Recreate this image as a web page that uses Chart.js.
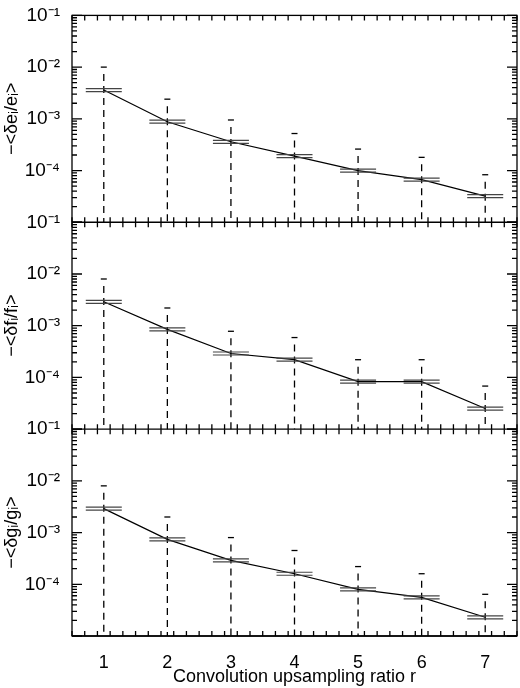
<!DOCTYPE html>
<html>
<head>
<meta charset="utf-8">
<script src="https://cdn.jsdelivr.net/npm/chart.js@4.4.0/dist/chart.umd.min.js"></script>
<style>
  body { margin: 0; background: #fff; }
  #wrap { width: 520px; height: 688px; }
</style>
</head>
<body>
<div id="wrap"><canvas id="chartConv"></canvas></div>
<script>
const ratios = [1, 2, 3, 4, 5, 6, 7];
const eMean = [3.6e-3, 8.8e-4, 3.6e-4, 1.9e-4, 1.0e-4, 6.7e-5, 3.2e-5];
const eUpper = [1.0e-2, 2.4e-3, 9.5e-4, 5.2e-4, 2.6e-4, 1.8e-4, 8.3e-5];
const fMean = [2.9e-3, 8.5e-4, 2.9e-4, 2.2e-4, 8.3e-5, 8.3e-5, 2.5e-5];
const fUpper = [8.0e-3, 2.2e-3, 7.8e-4, 5.9e-4, 2.2e-4, 2.2e-4, 6.8e-5];
const gMean = [2.9e-3, 7.4e-4, 2.9e-4, 1.6e-4, 8.0e-5, 5.6e-5, 2.3e-5];
const gUpper = [8.0e-3, 2.0e-3, 8.0e-4, 4.5e-4, 2.2e-4, 1.6e-4, 6.4e-5];
const decadeLabels = { '-1': '10⁻¹', '-2': '10⁻²', '-3': '10⁻³', '-4': '10⁻⁴' };

document.addEventListener('DOMContentLoaded', function () {
  chartConv();
});

function yAxis(title) {
  return {
    type: 'logarithmic', stack: 'panels', stackWeight: 1,
    min: 1e-5, max: 1e-1, offset: false,
    grid: { display: false },
    border: { display: false },
    afterFit: function (s) { s.width = 72; },
    afterBuildTicks: function (s) {
      const t = [];
      for (let d = -5; d <= -1; d++) {
        for (let m = 1; m < 10; m++) {
          if (d === -1 && m > 1) break;
          t.push({ value: m * Math.pow(10, d) });
        }
      }
      s.ticks = t;
    },
    ticks: {
      autoSkip: false, color: '#000', padding: 4,
      font: { family: 'Liberation Sans', size: 19 },
      callback: function (v) {
        const l = Math.log10(v);
        if (Math.abs(l - Math.round(l)) > 1e-6) return '';
        return decadeLabels[String(Math.round(l))] || '';
      }
    },
    title: { display: true, text: title, color: '#000', padding: 1,
      font: { family: 'Liberation Sans', size: 18 } }
  };
}

const framePlugin = {
  id: 'frame',
  afterDatasetsDraw(chart) {
    const ctx = chart.ctx;
    const a = chart.chartArea;
    const xs = chart.scales.x;
    ctx.save();
    // error bars and markers
    chart.data.datasets.forEach(function (ds) {
      const ys = chart.scales[ds.yAxisID];
      ds.data.forEach(function (v, j) {
        const px = xs.getPixelForValue(ratios[j]);
        const py = ys.getPixelForValue(v);
        const pu = ys.getPixelForValue(ds.upper[j]);
        ctx.strokeStyle = '#000';
        ctx.lineWidth = 1.3;
        ctx.setLineDash([7, 5]);
        ctx.beginPath(); ctx.moveTo(px, pu + 7); ctx.lineTo(px, ys.bottom); ctx.stroke();
        ctx.setLineDash([]);
        ctx.beginPath(); ctx.moveTo(px - 3, pu); ctx.lineTo(px + 3, pu); ctx.stroke();
        ctx.strokeStyle = '#444';
        ctx.lineWidth = 1.2;
        [-1.5, 1.5].forEach(function (o) {
          ctx.beginPath(); ctx.moveTo(px - 18, py + o); ctx.lineTo(px + 18, py + o); ctx.stroke();
        });
      });
    });
    ctx.strokeStyle = '#000';
    ctx.lineWidth = 1.3;
    ctx.strokeRect(a.left, a.top, a.right - a.left, a.bottom - a.top);
    ['y1', 'y2', 'y3'].forEach(function (id) {
      const ys = chart.scales[id];
      ctx.beginPath(); ctx.moveTo(a.left, ys.bottom); ctx.lineTo(a.right, ys.bottom); ctx.stroke();
      ys.ticks.forEach(function (t) {
        const py = ys.getPixelForValue(t.value);
        const l = Math.log10(t.value);
        const len = Math.abs(l - Math.round(l)) < 1e-6 ? 10 : 5;
        ctx.beginPath();
        ctx.moveTo(a.left, py); ctx.lineTo(a.left + len, py);
        ctx.moveTo(a.right, py); ctx.lineTo(a.right - len, py);
        ctx.stroke();
      });
      for (let k = 0; k <= 35; k++) {
        const xv = 0.5 + k * 0.2;
        const px = xs.getPixelForValue(xv);
        const major = Math.abs(xv - Math.round(xv)) < 1e-6;
        const len = major ? 10 : 5;
        ctx.beginPath();
        ctx.moveTo(px, ys.bottom); ctx.lineTo(px, ys.bottom - len);
        ctx.moveTo(px, ys.top); ctx.lineTo(px, ys.top + len);
        ctx.stroke();
      }
    });
    ctx.restore();
  }
};

function chartConv() {
  const canvaConv = document.getElementById('chartConv').getContext('2d');
  const lineStyle = { borderColor: '#000', borderWidth: 1.2, pointRadius: 0, fill: false, tension: 0 };

  new Chart(canvaConv, {
    type: 'line',
    data: {
      labels: ratios,
      datasets: [
        Object.assign({ label: 'e', data: eMean, upper: eUpper, yAxisID: 'y1' }, lineStyle),
        Object.assign({ label: 'f', data: fMean, upper: fUpper, yAxisID: 'y2' }, lineStyle),
        Object.assign({ label: 'g', data: gMean, upper: gUpper, yAxisID: 'y3' }, lineStyle)
      ]
    },
    options: {
      responsive: true,
      maintainAspectRatio: false,
      animation: false,
      layout: { padding: { top: 5, right: 3, left: 0, bottom: 0 } },
      plugins: { legend: { display: false }, tooltip: { enabled: false } },
      scales: {
        x: {
          type: 'linear', min: 0.5, max: 7.5,
          grid: { display: false }, border: { display: false },
          afterFit: function (s) { s.height = 52; },
          afterBuildTicks: function (s) { s.ticks = ratios.map(function (r) { return { value: r }; }); },
          ticks: { color: '#000', padding: 8, font: { family: 'Liberation Sans', size: 18 } },
          title: { display: true, text: 'Convolution upsampling ratio r', color: '#000',
            padding: { top: 2, bottom: 0 },
            font: { family: 'Liberation Sans', size: 18 } }
        },
        y3: yAxis('−<δgᵢ/gᵢ>'),
        y2: yAxis('−<δfᵢ/fᵢ>'),
        y1: yAxis('−<δeᵢ/eᵢ>')
      }
    },
    plugins: [framePlugin]
  });
}
</script>
</body>
</html>
